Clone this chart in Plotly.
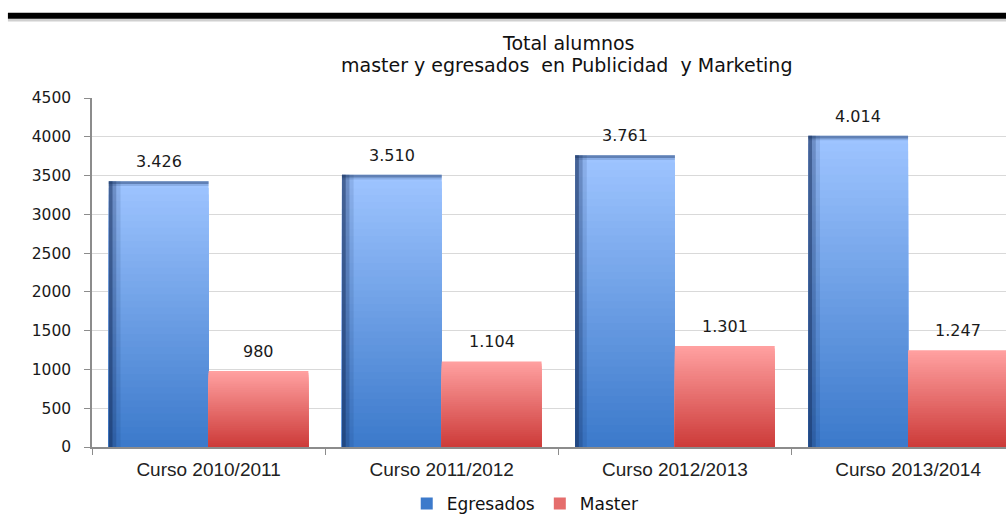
import plotly.graph_objects as go

categories = ["Curso 2010/2011", "Curso 2011/2012", "Curso 2012/2013", "Curso 2013/2014"]
egresados = [3426, 3510, 3761, 4014]
master = [980, 1104, 1301, 1247]
labels_egresados = ["3.426", "3.510", "3.761", "4.014"]
labels_master = ["980", "1.104", "1.301", "1.247"]
y_ticks = [0, 500, 1000, 1500, 2000, 2500, 3000, 3500, 4000, 4500]

BAR_W = 0.428
N = 40
BLUE_TOP, BLUE_BOT = (158, 196, 255), (60, 122, 203)
RED_TOP, RED_BOT = (255, 160, 160), (205, 60, 58)


def lerp(c1, c2, t):
    return "rgb(%d,%d,%d)" % tuple(round(a + (b - a) * t) for a, b in zip(c1, c2))


fig = go.Figure()


def gradient_bars(values, top, bot, offset, name, legend_k):
    for k in range(N):
        frac = 1 - k / N
        fig.add_trace(go.Bar(
            x=categories, y=[v * frac for v in values],
            offset=offset, width=BAR_W,
            marker=dict(color=lerp(top, bot, k / (N - 1)), line=dict(width=0)),
            name=name, legendgroup=name,
            showlegend=(k == legend_k),
            hoverinfo="skip",
        ))


gradient_bars(egresados, BLUE_TOP, BLUE_BOT, -BAR_W, "Egresados", N - 1)

# dark bevel on left and top of blue bars
for w, a in [(0.05, 0.12), (0.032, 0.25), (0.016, 0.45)]:
    fig.add_trace(go.Bar(x=categories, y=egresados, offset=-BAR_W, width=w,
                         marker=dict(color="rgba(20,45,90,%s)" % a, line=dict(width=0)),
                         showlegend=False, hoverinfo="skip"))
for h, a in [(60, 0.15), (35, 0.35)]:
    fig.add_trace(go.Bar(x=categories, y=[h] * 4, base=[v - h for v in egresados],
                         offset=-BAR_W, width=BAR_W,
                         marker=dict(color="rgba(20,45,90,%s)" % a, line=dict(width=0)),
                         showlegend=False, hoverinfo="skip"))

gradient_bars(master, RED_TOP, RED_BOT, 0.0, "Master", N // 2)

annotations = []
for c, v, t in zip(categories, egresados, labels_egresados):
    annotations.append(dict(x=c, y=v, xref="x", yref="y", text=t, showarrow=False,
                            xshift=-BAR_W / 2 * 233.2, yshift=8, yanchor="bottom",
                            font=dict(family="DejaVu Sans", size=16, color="#1a1a1a")))
for c, v, t in zip(categories, master, labels_master):
    annotations.append(dict(x=c, y=v, xref="x", yref="y", text=t, showarrow=False,
                            xshift=BAR_W / 2 * 233.2, yshift=8, yanchor="bottom",
                            font=dict(family="DejaVu Sans", size=16, color="#1a1a1a")))

annotations.append(dict(x=0.5208, y=1.158, xref="paper", yref="paper", text="Total alumnos",
                        showarrow=False, xanchor="center", yanchor="middle",
                        font=dict(family="DejaVu Sans", size=19, color="#111")))
annotations.append(dict(x=0.5186, y=1.094, xref="paper", yref="paper",
                        text="master y egresados&nbsp; en Publicidad&nbsp; y Marketing",
                        showarrow=False, xanchor="center", yanchor="middle",
                        font=dict(family="DejaVu Sans", size=19, color="#111")))

shapes = [
    dict(type="line", xref="paper", yref="paper", x0=-0.092, x1=1.01, y0=1.2235, y1=1.2235,
         line=dict(color="#d0d0d0", width=3)),
    dict(type="line", xref="paper", yref="paper", x0=-0.092, x1=1.01, y0=1.236, y1=1.236,
         line=dict(color="#000000", width=6)),
]

fig.update_layout(
    width=1006, height=518,
    margin=dict(l=92, r=0, t=98, b=71, autoexpand=False),
    paper_bgcolor="white", plot_bgcolor="white",
    barmode="overlay",
    showlegend=True,
    legend=dict(orientation="h", x=0.474, xanchor="center", y=-0.163, yanchor="middle",
                font=dict(family="DejaVu Sans", size=17, color="#111"),
                traceorder="normal", itemwidth=30),
    annotations=annotations,
    shapes=shapes,
    xaxis=dict(type="category", range=[-0.5, 3.42], showgrid=False, automargin=False,
               showline=True, linecolor="#8c8c8c", linewidth=1.5,
               ticks="outside", tickson="boundaries", ticklen=6, tickcolor="#8c8c8c",
               tickfont=dict(family="Liberation Sans", size=19, color="#222"),
               ticklabelstandoff=4),
    yaxis=dict(range=[0, 4500], tickvals=y_ticks, showgrid=True, gridcolor="#d9d9d9",
               gridwidth=1.2, zeroline=False, automargin=False,
               showline=True, linecolor="#8c8c8c", linewidth=1.5,
               ticks="outside", ticklen=6, tickcolor="#8c8c8c",
               tickfont=dict(family="DejaVu Sans", size=15.5, color="#1a1a1a"),
               ticklabelstandoff=10),
)

fig.write_html("out.html", config={"displayModeBar": False},
               post_script="document.body.style.margin='0';document.body.style.overflow='hidden';")
